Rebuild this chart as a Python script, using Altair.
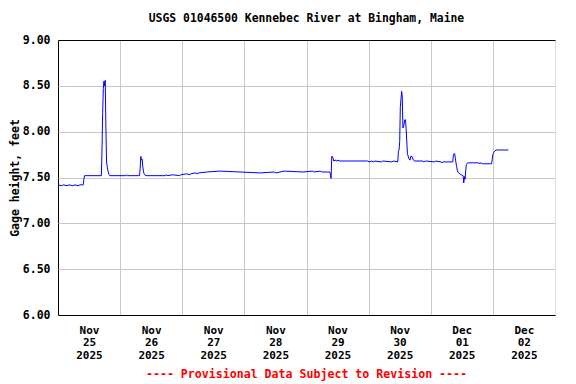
import altair as alt
import pandas as pd

# ---- data (15-min USGS gage height, feet) ----
times = [
    "2025-11-25T00:00", "2025-11-25T01:30", "2025-11-25T02:00", "2025-11-25T03:30",
    "2025-11-25T04:15", "2025-11-25T05:45", "2025-11-25T06:30", "2025-11-25T07:45",
    "2025-11-25T08:30", "2025-11-25T09:45", "2025-11-25T10:00", "2025-11-25T10:15",
    "2025-11-25T16:45", "2025-11-25T17:00", "2025-11-25T17:15", "2025-11-25T17:30",
    "2025-11-25T17:45", "2025-11-25T18:00", "2025-11-25T18:15", "2025-11-25T18:30",
    "2025-11-25T18:45", "2025-11-25T19:00", "2025-11-25T19:15", "2025-11-25T19:30",
    "2025-11-25T19:45", "2025-11-25T20:00",
    "2025-11-26T02:15", "2025-11-26T02:30", "2025-11-26T02:45", "2025-11-26T07:30",
    "2025-11-26T07:45", "2025-11-26T08:00", "2025-11-26T08:15", "2025-11-26T08:30",
    "2025-11-26T08:45", "2025-11-26T09:00", "2025-11-26T09:15", "2025-11-26T09:30",
    "2025-11-26T10:00", "2025-11-26T17:30", "2025-11-26T17:45", "2025-11-26T18:30",
    "2025-11-26T20:15", "2025-11-26T23:00", "2025-11-26T23:30",
    "2025-11-27T01:45", "2025-11-27T03:00", "2025-11-27T03:15", "2025-11-27T05:00",
    "2025-11-27T06:00", "2025-11-27T06:15", "2025-11-27T09:30", "2025-11-27T14:30",
    "2025-11-28T06:15", "2025-11-28T11:30", "2025-11-28T12:15", "2025-11-28T15:15",
    "2025-11-28T22:45",
    "2025-11-29T02:30", "2025-11-29T02:45", "2025-11-29T05:30", "2025-11-29T05:45",
    "2025-11-29T09:00", "2025-11-29T09:15", "2025-11-29T09:30", "2025-11-29T09:45",
    "2025-11-29T10:00", "2025-11-29T10:15", "2025-11-29T10:30", "2025-11-29T11:15",
    "2025-11-29T11:30", "2025-11-29T12:15", "2025-11-29T12:30", "2025-11-29T23:30",
    "2025-11-30T00:30", "2025-11-30T01:00", "2025-11-30T02:00", "2025-11-30T02:15",
    "2025-11-30T05:00", "2025-11-30T05:30", "2025-11-30T09:00", "2025-11-30T09:30",
    "2025-11-30T11:15", "2025-11-30T11:30", "2025-11-30T11:45", "2025-11-30T12:00",
    "2025-11-30T12:15", "2025-11-30T12:45", "2025-11-30T13:00", "2025-11-30T13:15",
    "2025-11-30T13:30", "2025-11-30T14:00", "2025-11-30T14:15", "2025-11-30T14:30",
    "2025-11-30T15:00", "2025-11-30T15:30", "2025-11-30T16:00", "2025-11-30T16:15",
    "2025-11-30T16:45", "2025-11-30T17:15", "2025-11-30T17:45", "2025-11-30T21:00",
    "2025-11-30T21:15", "2025-11-30T22:00",
    "2025-12-01T01:30", "2025-12-01T01:45", "2025-12-01T04:00", "2025-12-01T04:15",
    "2025-12-01T04:45", "2025-12-01T08:30", "2025-12-01T08:45", "2025-12-01T09:00",
    "2025-12-01T09:15", "2025-12-01T09:30", "2025-12-01T09:45", "2025-12-01T10:00",
    "2025-12-01T10:15", "2025-12-01T10:30", "2025-12-01T10:45", "2025-12-01T11:15",
    "2025-12-01T11:45", "2025-12-01T12:30", "2025-12-01T12:45", "2025-12-01T13:00",
    "2025-12-01T13:15", "2025-12-01T13:30", "2025-12-01T13:45", "2025-12-01T14:15",
    "2025-12-01T18:30", "2025-12-01T18:45", "2025-12-01T19:00", "2025-12-01T20:00",
    "2025-12-01T23:30", "2025-12-01T23:45",
    "2025-12-02T00:00", "2025-12-02T00:15", "2025-12-02T00:30", "2025-12-02T00:45",
    "2025-12-02T01:15", "2025-12-02T06:00",
]
heights = [
    7.42, 7.41, 7.42, 7.41,
    7.42, 7.41, 7.42, 7.41,
    7.42, 7.42, 7.48, 7.52,
    7.52, 7.80, 8.20, 8.47,
    8.55, 8.50, 8.56, 8.05,
    7.67, 7.62, 7.58, 7.55,
    7.53, 7.52,
    7.52, 7.53, 7.52, 7.52,
    7.60, 7.73, 7.69, 7.70,
    7.62, 7.57, 7.54, 7.53,
    7.52, 7.52, 7.53, 7.52,
    7.53, 7.52, 7.53,
    7.54, 7.53, 7.54, 7.55,
    7.54, 7.55, 7.56, 7.57,
    7.55, 7.56, 7.55, 7.57,
    7.56,
    7.57, 7.56, 7.57, 7.56,
    7.56, 7.53, 7.49, 7.73,
    7.73, 7.71, 7.68, 7.69,
    7.68, 7.69, 7.68, 7.68,
    7.67, 7.68, 7.67, 7.68,
    7.67, 7.68, 7.67, 7.68,
    7.67, 7.78, 7.80, 7.89,
    8.27, 8.44, 8.38, 8.04,
    8.06, 8.13, 8.13, 8.02,
    7.76, 7.71, 7.69, 7.73,
    7.73, 7.69, 7.68, 7.68,
    7.67, 7.68,
    7.67, 7.68, 7.67, 7.66,
    7.67, 7.67, 7.75, 7.76,
    7.76, 7.71, 7.66, 7.62,
    7.58, 7.56, 7.55, 7.54,
    7.53, 7.52, 7.44, 7.51,
    7.48, 7.57, 7.64, 7.66,
    7.66, 7.65, 7.66, 7.65,
    7.65, 7.70,
    7.75, 7.77, 7.78, 7.79,
    7.80, 7.80,
]
y_ticks = [6.0, 6.5, 7.0, 7.5, 8.0, 8.5, 9.0]
day_ticks = [(11, 25), (11, 26), (11, 27), (11, 28), (11, 29), (11, 30), (12, 1), (12, 2)]

title_text = "USGS 01046500 Kennebec River at Bingham, Maine"
footer_text = "---- Provisional Data Subject to Revision ----"
y_title = "Gage height, feet"

df = pd.DataFrame({"time": times, "height": heights})
title_df = pd.DataFrame({"label": [title_text]})
footer_df = pd.DataFrame({"label": [footer_text]})

FONT = "DejaVu Sans Mono"
GRID = "#c8c8c8"
W, H = 497, 275

x_values = [alt.DateTime(year=2025, month=m, date=d, hours=0) for m, d in day_ticks]

line = alt.Chart(df).mark_line(color="#0000ff", strokeWidth=1, interpolate="linear").encode(
    x=alt.X(
        "time:T",
        scale=alt.Scale(domain=[alt.DateTime(year=2025, month=11, date=25, hours=0),
                                alt.DateTime(year=2025, month=12, date=3, hours=0)]),
        axis=alt.Axis(
            values=x_values,
            labelExpr="[timeFormat(datum.value, '%b'), timeFormat(datum.value, '%d'), timeFormat(datum.value, '%Y')]",
            labelOffset=31,
            ticks=False,
            domain=False,
            grid=True,
            gridColor=alt.condition("datum.index == 0", alt.value("black"), alt.value(GRID)),
            gridWidth=1,
            labelFont=FONT,
            labelFontWeight="bold",
            labelFontSize=11,
            labelColor="black",
            labelLineHeight=12.7,
            labelPadding=9,
            labelAngle=0,
            labelFlush=False,
            labelOverlap=False,
            title=None,
        ),
    ),
    y=alt.Y(
        "height:Q",
        scale=alt.Scale(domain=[6, 9], nice=False, zero=False),
        axis=alt.Axis(
            values=y_ticks,
            format=".2f",
            ticks=False,
            domain=False,
            grid=True,
            gridColor=alt.condition("datum.value == 6 || datum.value == 9",
                                    alt.value("black"), alt.value(GRID)),
            gridWidth=1,
            labelFont=FONT,
            labelFontWeight="bold",
            labelFontSize=11.5,
            labelColor="black",
            labelPadding=8,
            title=y_title,
            titleFont=FONT,
            titleFontWeight="bold",
            titleFontSize=11.5,
            titleColor="black",
            titlePadding=2,
        ),
    ),
)

title = alt.Chart(title_df).mark_text(
    font=FONT, fontWeight="bold", fontSize=11.4, color="black",
    align="center", baseline="middle",
).encode(
    text="label:N",
    x=alt.value(W / 2),
    y=alt.value(-21),
)

footer = alt.Chart(footer_df).mark_text(
    font=FONT, fontWeight="bold", fontSize=11.6, color="#ff0000",
    align="center", baseline="middle",
).encode(
    text="label:N",
    x=alt.value(W / 2),
    y=alt.value(335),
)

chart = alt.layer(line, title, footer).properties(
    width=W,
    height=H,
    padding={"left": 50, "top": 32, "right": 12, "bottom": 66},
    autosize=alt.AutoSizeParams(type="none"),
).configure_view(
    stroke="black",
    strokeWidth=1,
).configure(background="white")

chart.save("out.html", embed_options={"renderer": "svg", "actions": False})
